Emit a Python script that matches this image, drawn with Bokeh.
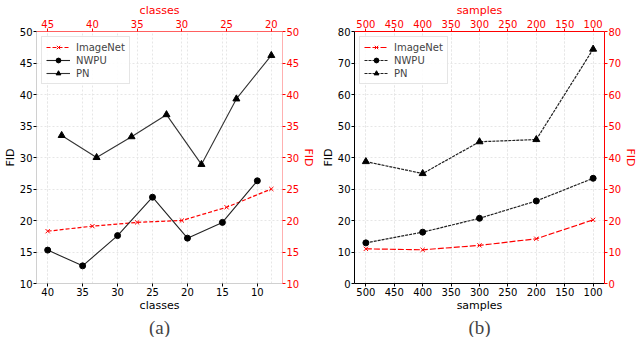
from bokeh.plotting import figure
from bokeh.models import (Range1d, LinearAxis, FixedTicker, Grid, Title)
from bokeh.layouts import row
from bokeh.embed import file_html
from bokeh.resources import INLINE

# ---------------- data ----------------
# panel (a)
classes_nwpu = [40, 35, 30, 25, 20, 15, 10]
nwpu_a = [15.3, 12.8, 17.6, 23.7, 17.2, 19.7, 26.3]
classes_pn = [38, 33, 28, 23, 18, 13, 8]
pn_a = [33.5, 30.0, 33.3, 36.8, 28.9, 39.3, 46.2]
classes_imagenet = [45, 40, 35, 30, 25, 20]          # on the top (red) axis
imagenet_a = [18.3, 19.1, 19.7, 20.0, 22.1, 25.0]
ticks_a_bottom = [40, 35, 30, 25, 20, 15, 10]
ticks_a_top = [45, 40, 35, 30, 25, 20]
ticks_a_y = [10, 15, 20, 25, 30, 35, 40, 45, 50]

# panel (b)
samples = [500, 400, 300, 200, 100]
imagenet_b = [11.0, 10.7, 12.1, 14.2, 20.2]
nwpu_b = [12.9, 16.3, 20.7, 26.2, 33.4]
pn_b = [38.7, 34.9, 45.0, 45.7, 74.4]
ticks_b_x = [500, 450, 400, 350, 300, 250, 200, 150, 100]
ticks_b_y = [0, 10, 20, 30, 40, 50, 60, 70, 80]

RED = "red"
FONT = "DejaVu Sans"


def style_axis(ax, color, line_color, ticks):
    ax.ticker = FixedTicker(ticks=ticks)
    ax.major_label_text_font = FONT
    ax.major_label_text_font_size = "10px"
    ax.major_label_text_color = color
    ax.axis_label_text_font = FONT
    ax.axis_label_text_font_size = "11px"
    ax.axis_label_text_font_style = "normal"
    ax.axis_label_text_color = color
    ax.axis_line_color = line_color
    ax.major_tick_line_color = color
    ax.major_tick_out = 3
    ax.major_tick_in = 0
    ax.minor_tick_out = 0
    ax.minor_tick_in = 0
    ax.major_label_standoff = 1
    ax.axis_label_standoff = 0


def make_panel(width, xr, xr_top, yr, xlabel, tb, tt, ty, caption,
               left_line, bottom_line, right_line, top_line):
    p = figure(width=width, height=337, output_backend="svg",
               toolbar_location=None, title=None,
               x_range=Range1d(*xr), y_range=Range1d(*yr),
               min_border_left=0, min_border_right=0,
               min_border_top=0, min_border_bottom=0)
    p.outline_line_color = None
    p.background_fill_color = "white"
    p.border_fill_color = "white"
    p.extra_x_ranges = {"top": Range1d(*xr_top)}
    p.extra_y_ranges = {"right": Range1d(*yr)}
    for g in list(p.center):
        if isinstance(g, Grid):
            p.center.remove(g)

    xb = p.xaxis[0]
    xb.axis_label = xlabel
    style_axis(xb, "black", bottom_line, tb)
    yl = p.yaxis[0]
    yl.axis_label = "FID"
    style_axis(yl, "black", left_line, ty)

    xt = LinearAxis(x_range_name="top", axis_label=xlabel)
    style_axis(xt, RED, top_line, tt)
    p.add_layout(xt, "above")
    yr_ax = LinearAxis(y_range_name="right", axis_label="FID")
    style_axis(yr_ax, RED, right_line, ty)
    p.add_layout(yr_ax, "right")

    gcol = "#e6e6e6"
    p.add_layout(Grid(dimension=0, ticker=FixedTicker(ticks=tb),
                      grid_line_color=gcol, grid_line_dash="2 2"))
    p.add_layout(Grid(dimension=0, ticker=FixedTicker(ticks=tt),
                      x_range_name="top",
                      grid_line_color=gcol, grid_line_dash="2 2"))
    p.add_layout(Grid(dimension=1, ticker=FixedTicker(ticks=ty),
                      grid_line_color=gcol, grid_line_dash="2 2"))

    p.add_layout(Title(text=caption, align="center",
                       text_font="Liberation Serif", text_font_size="19px",
                       text_font_style="normal", standoff=0), "below")
    return p


def finish_legend(p):
    leg = p.legend[0]
    leg.location = "top_left"
    leg.border_line_color = "#cccccc"
    leg.background_fill_alpha = 0.85
    leg.label_text_font = FONT
    leg.label_text_font_size = "10px"
    leg.glyph_width = 24
    leg.glyph_height = 12
    leg.label_height = 12
    leg.spacing = 1
    leg.padding = 4
    leg.margin = 5
    leg.label_standoff = 6


# ---------------- panel (a) ----------------
pa = make_panel(318, (41.6, 6.4), (46.25, 18.75), (10, 50), "classes",
                ticks_a_bottom, ticks_a_top, ticks_a_y, "(a)",
                "#d0d0d0", "#d0d0d0", "#ffb0b0", "#ff6060")

pa.line(classes_imagenet, imagenet_a, x_range_name="top",
        line_color=RED, line_width=1.2, line_dash="4 2",
        legend_label="ImageNet")
pa.scatter(classes_imagenet, imagenet_a, x_range_name="top",
           marker="x", size=6, line_color=RED, line_width=1,
           legend_label="ImageNet")
pa.line(classes_nwpu, nwpu_a, line_color="#222222", line_width=1.1,
        legend_label="NWPU")
pa.scatter(classes_nwpu, nwpu_a, marker="circle", size=6,
           fill_color="black", line_color="black", legend_label="NWPU")
pa.line(classes_pn, pn_a, line_color="#333333", line_width=1.1,
        legend_label="PN")
pa.scatter(classes_pn, pn_a, marker="triangle", size=7,
           fill_color="black", line_color="black", legend_label="PN")
finish_legend(pa)

# ---------------- panel (b) ----------------
pb = make_panel(322, (520, 80), (520, 80), (0, 80), "samples",
                ticks_b_x, ticks_b_x, ticks_b_y, "(b)",
                "black", "black", RED, RED)

pb.line(samples, imagenet_b, x_range_name="top",
        line_color=RED, line_width=1.2, line_dash="6 2",
        legend_label="ImageNet")
pb.scatter(samples, imagenet_b, x_range_name="top",
           marker="x", size=6, line_color=RED, line_width=1,
           legend_label="ImageNet")
pb.line(samples, nwpu_b, line_color="#222222", line_width=1.2,
        line_dash="3 1", legend_label="NWPU")
pb.scatter(samples, nwpu_b, marker="circle", size=6,
           fill_color="black", line_color="black", legend_label="NWPU")
pb.line(samples, pn_b, line_color="#222222", line_width=1.2,
        line_dash="3 1", legend_label="PN")
pb.scatter(samples, pn_b, marker="triangle", size=7,
           fill_color="black", line_color="black", legend_label="PN")
finish_legend(pb)

layout = row(pa, pb)
open("out.html", "w").write(file_html(layout, INLINE))
